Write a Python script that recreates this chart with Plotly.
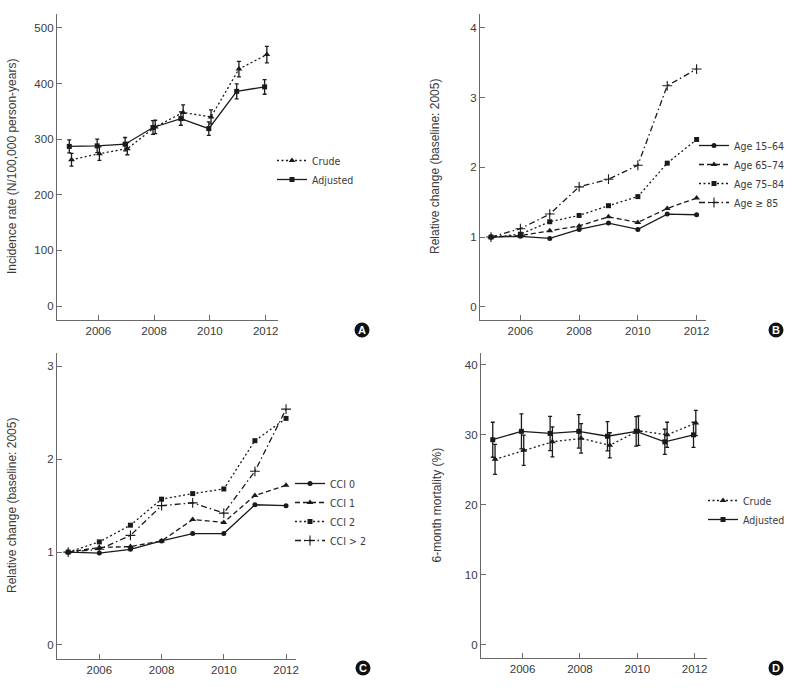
import plotly.graph_objects as go

years = [2005, 2006, 2007, 2008, 2009, 2010, 2011, 2012]

# Panel A: incidence rate (N/100,000 person-years)
a_crude = [263, 274, 283, 322, 348, 340, 426, 452]
a_crude_err = [11.4, 12, 11, 12, 13.5, 12.6, 14, 14.7]
a_adj = [287, 288, 291, 321, 337, 319, 386, 394]
a_adj_err = [11.7, 12, 12, 12.3, 12, 12, 13.5, 13.2]

# Panel B: relative change by age group
age_15_64 = [1.0, 1.01, 0.98, 1.11, 1.20, 1.11, 1.33, 1.32]
age_65_74 = [1.0, 1.02, 1.09, 1.16, 1.29, 1.21, 1.41, 1.56]
age_75_84 = [1.0, 1.04, 1.22, 1.31, 1.45, 1.58, 2.06, 2.40]
age_85 = [1.0, 1.12, 1.33, 1.72, 1.83, 2.03, 3.17, 3.41]

# Panel C: relative change by CCI
cci0 = [1.0, 0.99, 1.03, 1.12, 1.20, 1.20, 1.51, 1.50]
cci1 = [1.0, 1.05, 1.06, 1.12, 1.35, 1.32, 1.61, 1.72]
cci2 = [1.0, 1.11, 1.29, 1.57, 1.63, 1.68, 2.20, 2.44]
cci_gt2 = [1.0, 1.03, 1.18, 1.50, 1.53, 1.42, 1.87, 2.54]

# Panel D: 6-month mortality (%)
d_crude = [26.5, 27.8, 29.0, 29.5, 28.5, 30.6, 30.0, 31.7]
d_crude_err = [2.15, 2.15, 2.15, 2.1, 1.8, 2.1, 1.8, 1.8]
d_adj = [29.3, 30.5, 30.2, 30.5, 29.8, 30.5, 29.0, 30.0]
d_adj_err = [2.5, 2.5, 2.45, 2.4, 2.1, 2.1, 1.8, 1.8]

x_ticks = [2006, 2008, 2010, 2012]
a_yticks = [0, 100, 200, 300, 400, 500]
b_yticks = [0, 1, 2, 3, 4]
c_yticks = [0, 1, 2, 3]
d_yticks = [0, 10, 20, 30, 40]

# body margin is removed by the post script, so page pixels == figure pixels
W, H = 798, 687


def px_x(x):
    return x / W


def px_y(y):
    return 1 - y / H


INK = "#1a1a1a"
AX = "#6a6a6a"
TXT = "#3a3a3a"
TICKFONT = dict(family="Liberation Sans, Arial, sans-serif", size=11.5, color=TXT)
LEGFONT = dict(family="Liberation Sans Narrow, DejaVu Sans Condensed, Liberation Sans, Arial, sans-serif",
               size=10.5, color=TXT)

DASH = {"solid": "solid", "dot": "2px,2.5px", "dash": "5px,3px", "dashdot": "6px,3px,1.5px,3px"}

dodge = 0.04
fig = go.Figure()


def add_line(xs, ys, name, dash, symbol, size, xa, ya, legend, err=None, shift=0.0):
    marker = dict(symbol=symbol, size=size, color=INK)
    if symbol == "cross-thin":
        marker["line"] = dict(width=1.1, color=INK)
    tr = go.Scatter(
        x=[v + shift for v in xs], y=ys, name=name, mode="lines+markers",
        line=dict(color=INK, width=1.3, dash=DASH[dash]), marker=marker,
        xaxis=xa, yaxis=ya, legend=legend,
    )
    if err is not None:
        tr.error_y = dict(type="data", array=err, visible=True, color=INK, thickness=1.3, width=2)
    fig.add_trace(tr)


# Panel A
add_line(years, a_crude, "Crude", "dot", "triangle-up", 6, "x", "y", "legend", a_crude_err, dodge)
add_line(years, a_adj, "Adjusted", "solid", "square", 5, "x", "y", "legend", a_adj_err, -dodge)
# Panel B
add_line(years, age_15_64, "Age 15\u201364", "solid", "circle", 5, "x2", "y2", "legend2")
add_line(years, age_65_74, "Age 65\u201374", "dash", "triangle-up", 6, "x2", "y2", "legend2")
add_line(years, age_75_84, "Age 75\u201384", "dot", "square", 5, "x2", "y2", "legend2")
add_line(years, age_85, "Age \u2265 85", "dashdot", "cross-thin", 7, "x2", "y2", "legend2")
# Panel C
add_line(years, cci0, "CCI 0", "solid", "circle", 5, "x3", "y3", "legend3")
add_line(years, cci1, "CCI 1", "dash", "triangle-up", 6, "x3", "y3", "legend3")
add_line(years, cci2, "CCI 2", "dot", "square", 5, "x3", "y3", "legend3")
add_line(years, cci_gt2, "CCI > 2", "dashdot", "cross-thin", 7, "x3", "y3", "legend3")
# Panel D
add_line(years, d_crude, "Crude", "dot", "triangle-up", 6, "x4", "y4", "legend4", d_crude_err, dodge)
add_line(years, d_adj, "Adjusted", "solid", "square", 5, "x4", "y4", "legend4", d_adj_err, -dodge)

# pixel layout for each panel: axis left/right, top/bottom
panels = {
    "A": dict(px=(57, 278), py=(14, 320), xr=[2004.52, 2012.44], yr=[-25, 525], yt=a_yticks),
    "B": dict(px=(480, 706), py=(14, 320), xr=[2004.625, 2012.32], yr=[-0.19, 4.2], yt=b_yticks),
    "C": dict(px=(57, 296), py=(353, 659), xr=[2004.64, 2012.32], yr=[-0.151, 3.144], yt=c_yticks),
    "D": dict(px=(481, 707), py=(353, 658), xr=[2004.55, 2012.43], yr=[-1.9, 41.7], yt=d_yticks),
}
suffix = {"A": "", "B": "2", "C": "3", "D": "4"}
titles = {
    "A": "Incidence rate (N/100,000 person-years)",
    "B": "Relative change (baseline: 2005)",
    "C": "Relative change (baseline: 2005)",
    "D": "6-month mortality (%)",
}
# (left x of legend box, top y of legend box) in pixels
legend_pos = {"A": (272, 146), "B": (694, 131), "C": (290, 469), "D": (703, 486)}

layout = dict(
    template="none",
    width=W, height=H, margin=dict(l=0, r=0, t=0, b=0, pad=0),
    paper_bgcolor="white", plot_bgcolor="white", showlegend=True,
)
shapes, annotations = [], []
for key, p in panels.items():
    s = suffix[key]
    x0, x1 = px_x(p["px"][0]), px_x(p["px"][1])
    y0, y1 = px_y(p["py"][1]), px_y(p["py"][0])
    common = dict(
        showgrid=False, zeroline=False, showline=True, linecolor=AX, linewidth=1.3,
        ticks="inside", ticklen=5, tickcolor=AX, tickwidth=1, tickfont=TICKFONT,
        automargin=False,
    )
    layout["xaxis" + s] = dict(domain=[x0, x1], range=p["xr"], anchor="y" + s,
                               tickvals=x_ticks, **common)
    layout["yaxis" + s] = dict(domain=[y0, y1], range=p["yr"], anchor="x" + s,
                               tickvals=p["yt"], **common)
    lx, ly = legend_pos[key]
    layout["legend" + s] = dict(
        x=px_x(lx), y=px_y(ly), xanchor="left", yanchor="top",
        font=LEGFONT, bgcolor="rgba(0,0,0,0)", itemwidth=30, tracegroupgap=0,
        borderwidth=0,
    )
    annotations.append(dict(
        text=titles[key], textangle=-90, xref="paper", yref="paper",
        x=px_x(p["px"][0] - 45), y=(y0 + y1) / 2, xanchor="center", yanchor="middle",
        showarrow=False, font=dict(family="Liberation Sans, Arial, sans-serif", size=12, color=TXT),
    ))

badges = {"A": (362, 330), "B": (776, 330), "C": (363, 668), "D": (776, 668)}
for key, (bx, by) in badges.items():
    shapes.append(dict(
        type="circle", xref="paper", yref="paper", xsizemode="pixel", ysizemode="pixel",
        xanchor=px_x(bx), yanchor=px_y(by), x0=-7.5, x1=7.5, y0=-7.5, y1=7.5,
        fillcolor="#111111", line=dict(width=0),
    ))
    annotations.append(dict(
        text="<b>%s</b>" % key, xref="paper", yref="paper", x=px_x(bx), y=px_y(by),
        xanchor="center", yanchor="middle", showarrow=False,
        font=dict(family="Liberation Sans, Arial, sans-serif", size=11, color="white"),
    ))

layout["shapes"] = shapes
layout["annotations"] = annotations
fig.update_layout(**layout)
fig.write_html(
    "out.html",
    config={"displayModeBar": False},
    post_script="document.body.style.margin='0px';document.body.style.padding='0px';",
)
